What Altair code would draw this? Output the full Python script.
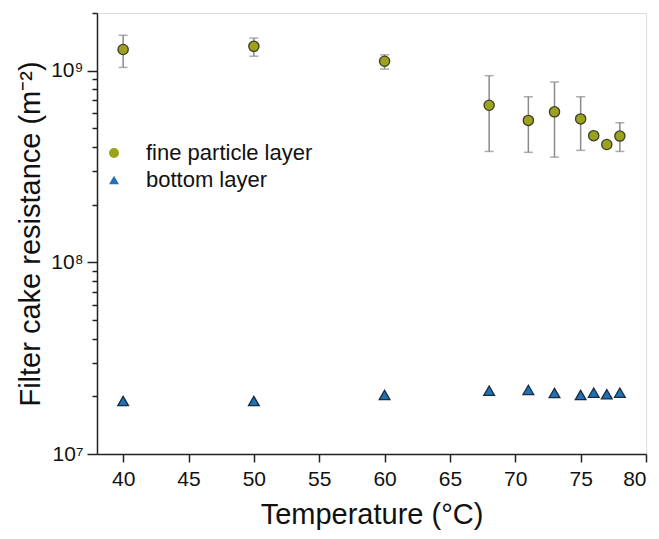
import altair as alt
import pandas as pd

# Temperatures (°C)
temps = [40, 50, 60, 68, 71, 73, 75, 76, 77, 78]

# Fine particle layer: mean resistance and error-bar limits (m^-2)
fine_mean = [1.29e9, 1.34e9, 1.12e9, 6.6e8, 5.5e8, 6.1e8, 5.6e8, 4.58e8, 4.12e8, 4.56e8]
fine_low = [1.04e9, 1.19e9, 1.02e9, 3.79e8, 3.75e8, 3.54e8, 3.84e8, 4.45e8, 4.02e8, 3.79e8]
fine_high = [1.53e9, 1.48e9, 1.21e9, 9.42e8, 7.31e8, 8.73e8, 7.31e8, 4.7e8, 4.22e8, 5.35e8]

# Bottom layer resistance (m^-2)
bottom_mean = [1.89e7, 1.89e7, 2.03e7, 2.14e7, 2.16e7, 2.08e7, 2.03e7, 2.09e7, 2.05e7, 2.09e7]

series_names = ["fine particle layer", "bottom layer"]
series_colors = ["#9ba31c", "#1f72b6"]
series_shapes = ["circle", "triangle-up"]

x_ticks = [40, 45, 50, 55, 60, 65, 70, 75, 80]
y_ticks = [m * 10 ** e for e in (7, 8) for m in range(1, 10)] + [1e9, 2e9]

fine = pd.DataFrame({
    "T": temps, "R": fine_mean, "lo": fine_low, "hi": fine_high,
    "series": series_names[0],
})
bottom = pd.DataFrame({"T": temps, "R": bottom_mean, "series": series_names[1]})

FONT = "Liberation Sans"

x_enc = alt.X(
    "T:Q",
    scale=alt.Scale(domain=[38, 80], nice=False, zero=False),
    axis=alt.Axis(
        values=x_ticks, title="Temperature (°C)", grid=False,
        tickSize=8, tickWidth=1.5, domainWidth=1.5,
        domainColor="#222", tickColor="#222",
        labelFontSize=21, labelPadding=6, labelColor="#111",
        titleFontSize=29, titleFontWeight="normal", titlePadding=11,
        titleColor="#111", labelFont=FONT, titleFont=FONT,
    ),
)

y_scale = alt.Scale(type="log", domain=[1e7, 2e9], nice=False)
y_axis = alt.Axis(
    values=y_ticks,
    labelExpr="datum.value == 1e7 ? '10⁷' : datum.value == 1e8 ? '10⁸' : datum.value == 1e9 ? '10⁹' : ''",
    title="Filter cake resistance (m⁻²)", grid=False,
    tickSize={"condition": {"test": "datum.value == 1e7 || datum.value == 1e8 || datum.value == 1e9", "value": 10}, "value": 5},
    tickWidth=1.5, domainWidth=1.5, domainColor="#222", tickColor="#222",
    labelFontSize=21, labelPadding=4, labelColor="#111",
    titleFontSize=29, titleFontWeight="normal", titlePadding=5,
    titleColor="#111", labelFont=FONT, titleFont=FONT,
)

err_rule = alt.Chart(fine).mark_rule(color="#8a8a8a", strokeWidth=1.5).encode(
    x=x_enc,
    y=alt.Y("lo:Q", scale=y_scale, axis=y_axis),
    y2="hi:Q",
)
cap_lo = alt.Chart(fine).mark_tick(color="#8a8a8a", thickness=1.5, size=9, orient="horizontal").encode(
    x="T:Q", y=alt.Y("lo:Q", scale=y_scale)
)
cap_hi = alt.Chart(fine).mark_tick(color="#8a8a8a", thickness=1.5, size=9, orient="horizontal").encode(
    x="T:Q", y=alt.Y("hi:Q", scale=y_scale)
)

color_enc = alt.Color(
    "series:N",
    scale=alt.Scale(domain=series_names, range=series_colors),
    legend=alt.Legend(
        title=None, orient="none", legendX=6, legendY=129,
        labelFontSize=22, labelFont=FONT, labelColor="#111", labelLimit=400,
        symbolSize=100, symbolStrokeWidth=0, rowPadding=5,
        labelOffset=21, padding=0,
    ),
)
shape_enc = alt.Shape("series:N", scale=alt.Scale(domain=series_names, range=series_shapes), legend=None)

fine_pts = alt.Chart(fine).mark_point(filled=True, size=105, stroke="#3d3d2a", strokeWidth=1.3, opacity=1).encode(
    x="T:Q", y=alt.Y("R:Q", scale=y_scale), color=color_enc, shape=shape_enc,
)
bottom_pts = alt.Chart(bottom).mark_point(filled=True, size=115, stroke="#1b2a3c", strokeWidth=1.3, opacity=1).encode(
    x="T:Q", y=alt.Y("R:Q", scale=y_scale), color=color_enc, shape=shape_enc,
)

chart = alt.layer(err_rule, cap_lo, cap_hi, fine_pts, bottom_pts).properties(
    width=549, height=441,
    autosize=alt.AutoSizeParams(type="none"),
    padding={"left": 97, "top": 13, "right": 13, "bottom": 85},
).configure_view(stroke=None).configure(background="white")

chart.save("out.html", embed_options={"renderer": "svg", "actions": False})
